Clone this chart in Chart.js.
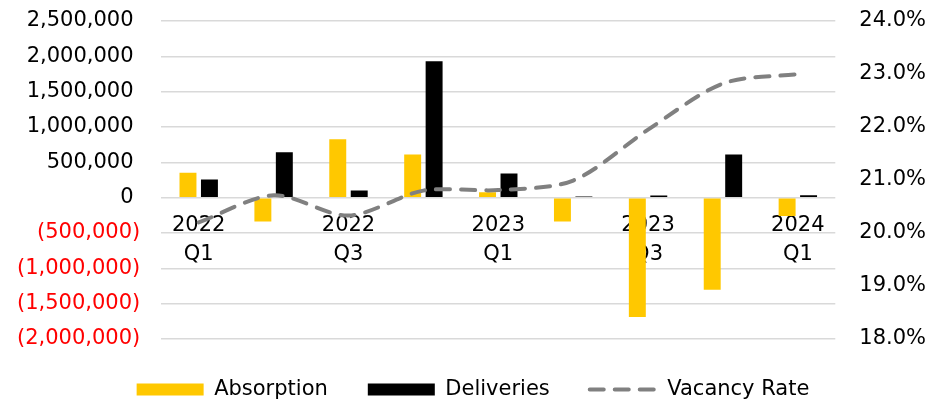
<!DOCTYPE html>
<html>
<head>
<meta charset="utf-8">
<script src="https://cdn.jsdelivr.net/npm/chart.js@4"></script>
<style>
  body { margin: 0; background: #fff; }
  #wrap { width: 926px; height: 402px; }
</style>
</head>
<body>
<div id="wrap"><canvas id="chart"></canvas></div>
<script>
// quarters shown on the chart
var categories = ['2022 Q1', '2022 Q2', '2022 Q3', '2022 Q4', '2023 Q1', '2023 Q2', '2023 Q3', '2023 Q4', '2024 Q1'];
var tickLabels = [['2022', 'Q1'], '', ['2022', 'Q3'], '', ['2023', 'Q1'], '', ['2023', 'Q3'], '', ['2024', 'Q1']];

// values
var absorption = [351000, -336000, 828000, 611000, 75000, -336000, -1690000, -1302000, -260000];
var deliveries = [256000, 644000, 100000, 1932000, 341000, 15000, 30000, 611000, 35000];
var vacancy = [20.2, 20.71, 20.33, 20.8, 20.81, 20.99, 21.95, 22.82, 23.0];

var FONT = 'DejaVu Sans';
var DASH = [14, 11];

// tick padding would otherwise push the plot top down
function trimPadding(scale) {
    scale.paddingTop = 21;
    scale.paddingBottom = 12;
}

var ctx = document.getElementById('chart').getContext('2d');
var myChart = new Chart(ctx, {
    type: 'bar',
    data: {
        labels: categories,
        datasets: [{
            label: 'Absorption',
            data: absorption,
            backgroundColor: '#FFC800',
            borderWidth: 0,
            pointStyle: 'rect',
            yAxisID: 'y',
            order: 1,
            categoryPercentage: 0.573,
            barPercentage: 0.79
        }, {
            label: 'Deliveries',
            data: deliveries,
            backgroundColor: '#000000',
            borderWidth: 0,
            pointStyle: 'rect',
            yAxisID: 'y',
            order: 1,
            categoryPercentage: 0.573,
            barPercentage: 0.79
        }, {
            type: 'line',
            label: 'Vacancy Rate',
            data: vacancy,
            borderColor: '#808080',
            borderWidth: 4,
            borderDash: DASH,
            borderCapStyle: 'round',
            segment: {
                borderDash: function() { return DASH; }
            },
            pointRadius: 0,
            pointStyle: 'line',
            tension: 0.3,
            fill: false,
            yAxisID: 'y1',
            order: 0
        }]
    },
    options: {
        responsive: true,
        maintainAspectRatio: false,
        animation: false,
        layout: {
            padding: { left: -4, right: -24, top: 0, bottom: -8 }
        },
        plugins: {
            tooltip: { enabled: false },
            legend: {
                position: 'bottom',
                labels: {
                    usePointStyle: true,
                    pointStyleWidth: 67,
                    boxHeight: 12,
                    padding: 40,
                    color: '#000',
                    font: { family: FONT, size: 21 },
                    sort: function(a, b) { return a.datasetIndex - b.datasetIndex; },
                    generateLabels: function(chart) {
                        var items = Chart.defaults.plugins.legend.labels.generateLabels(chart);
                        items.forEach(function(it) {
                            if (it.datasetIndex === 2) {
                                it.lineDash = DASH;
                                it.lineCap = 'round';
                                it.lineWidth = 4;
                                it.strokeStyle = '#808080';
                            }
                        });
                        return items;
                    }
                }
            }
        },
        scales: {
            x: {
                position: { y: 0 },
                grid: { display: false, drawTicks: false },
                border: { display: false },
                ticks: {
                    autoSkip: false,
                    maxRotation: 0,
                    padding: 14,
                    color: '#000',
                    font: { family: FONT, size: 21, lineHeight: 1.35 },
                    callback: function(v, i) { return tickLabels[i]; }
                }
            },
            y: {
                position: 'left',
                min: -2000000,
                max: 2500000,
                afterFit: trimPadding,
                grid: { color: '#d9d9d9', lineWidth: 1.5, drawTicks: false },
                border: { display: false },
                ticks: {
                    stepSize: 500000,
                    padding: 21,
                    font: { family: FONT, size: 21 },
                    color: function(c) { return c.tick && c.tick.value < 0 ? '#FF0000' : '#000'; },
                    callback: function(v) {
                        if (v < 0) return '(' + Math.abs(v).toLocaleString('en-US') + ')';
                        return v.toLocaleString('en-US') + ' ';
                    }
                }
            },
            y1: {
                position: 'right',
                min: 18,
                max: 24,
                afterFit: trimPadding,
                grid: { display: false, drawTicks: false },
                border: { display: false },
                ticks: {
                    stepSize: 1,
                    padding: 24,
                    color: '#000',
                    font: { family: FONT, size: 21 },
                    callback: function(v) { return v.toFixed(1) + '%'; }
                }
            }
        }
    }
});
</script>
</body>
</html>
